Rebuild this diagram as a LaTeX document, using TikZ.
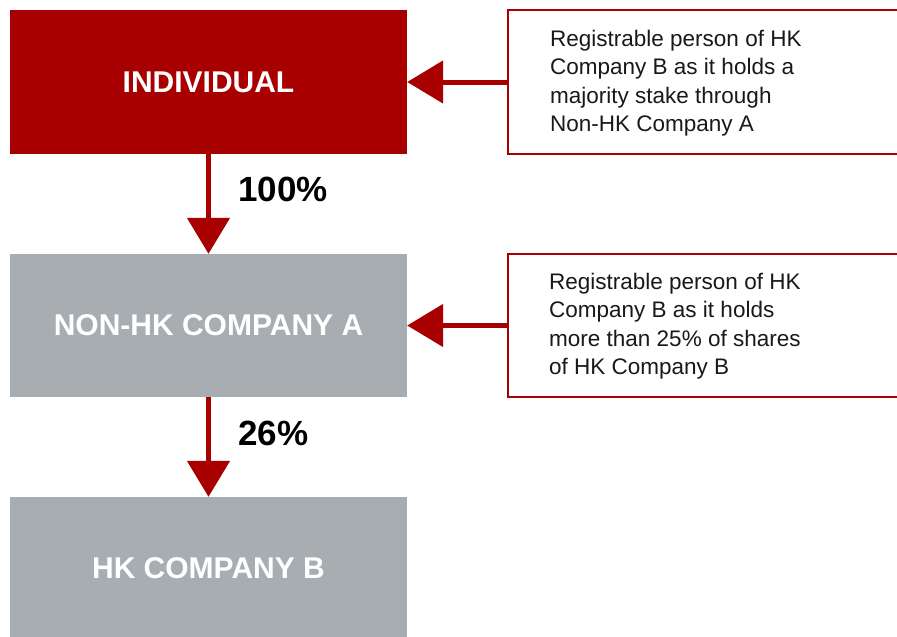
\documentclass[tikz,border=0pt]{standalone}
\usepackage{fontspec}
\setmainfont{Liberation Sans}
\usetikzlibrary{arrows.meta}
\definecolor{hkred}{RGB}{168,0,0}
\definecolor{hkgray}{RGB}{167,173,177}
\begin{document}
\begin{tikzpicture}[x=1pt,y=-1pt,
  bigbox/.style={rectangle, minimum width=397pt, minimum height=144pt, inner sep=0pt,
    text=white, font=\fontsize{30}{36}\selectfont\bfseries},
  notebox/.style={rectangle, draw=hkred, line width=2pt, fill=white, minimum width=397pt, minimum height=144pt, inner sep=0pt},
  notetext/.style={anchor=west, align=left, inner sep=0pt, font=\fontsize{22.5}{28.5}\selectfont, text=black!90},
  pct/.style={anchor=west, inner sep=0pt, font=\fontsize{35}{40}\selectfont\bfseries},
  conn/.style={draw=hkred, line width=5pt, -{Triangle[width=42pt,length=36pt]}}
]
\useasboundingbox (0,0) rectangle (897,637);
\clip (0,0) rectangle (897,637);
\fill[white] (0,0) rectangle (897,637);

\node[bigbox, fill=hkred] (indiv) at (208.5,82) {INDIVIDUAL};
\node[bigbox, fill=hkgray, minimum height=143pt] (compa) at (208.5,325.5) {NON-HK COMPANY A};
\node[bigbox, fill=hkgray, minimum height=143pt] (compb) at (208.5,568.5) {HK COMPANY B};

\node[notebox] (note1) at (706.5,82) {};
\node[notebox, minimum height=143pt] (note2) at (706.5,325.5) {};

\node[notetext] (t1) at (550,83) {Registrable person of HK\\Company B as it holds a\\majority stake through\\Non-HK Company A};
\node[notetext] (t2) at (549,326) {Registrable person of HK\\Company B as it holds\\more than 25\% of shares\\of HK Company B};

\draw[conn] (indiv.south) -- (compa.north);
\draw[conn] (compa.south) -- (compb.north);
\draw[conn] (note1.west) -- (indiv.east);
\draw[conn] (note2.west) -- (compa.east);

\node[pct] (p100) at (238,189) {100\%};
\node[pct] (p26) at (238,433) {26\%};
\end{tikzpicture}
\end{document}
